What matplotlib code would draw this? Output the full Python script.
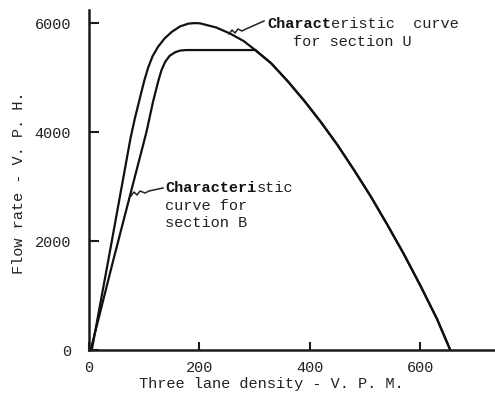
import matplotlib
matplotlib.use("Agg")
import matplotlib.pyplot as plt

# Section U characteristic curve (density V.P.M., flow V.P.H.)
u_density = [5, 35, 65, 75, 83, 95, 100, 107, 115, 125, 137, 150, 165, 180, 192, 201,
             230, 255, 280, 301, 330, 360, 390, 420, 450, 480, 510, 540, 570, 600, 630, 654]
u_flow = [0, 1650, 3320, 3880, 4250, 4740, 4940, 5180, 5390, 5565, 5720, 5840, 5940, 5990, 6000, 5995,
          5920, 5810, 5670, 5505, 5260, 4930, 4570, 4180, 3760, 3300, 2820, 2300, 1760, 1180, 570, 0]

# Section B characteristic curve
b_density = [3, 44, 104, 116, 125, 131, 138, 146, 156, 165, 176, 301,
             330, 360, 390, 420, 450, 480, 510, 540, 570, 600, 630, 654]
b_flow = [0, 1650, 4000, 4560, 4920, 5130, 5290, 5400, 5465, 5495, 5505, 5505,
          5260, 4930, 4570, 4180, 3760, 3300, 2820, 2300, 1760, 1180, 570, 0]

x_ticks = [0, 200, 400, 600]
y_ticks = [0, 2000, 4000, 6000]
x_label = "Three lane density - V. P. M."
y_label = "Flow rate - V. P. H."

W, H = 495, 399
FONT = "Liberation Mono"
CH = 0.6 * 11 * 100 / 72  # monospace advance in pixels at 11pt

fig = plt.figure(figsize=(W / 100, H / 100), dpi=100)
fig.patch.set_facecolor("white")

def fx(px):
    return px / W

def fy(py):
    return 1 - py / H

ax = fig.add_axes([fx(89), fy(350), (495 - 89) / W, (350 - 10) / H])
ax.set_xlim(0, 735)
ax.set_ylim(0, 6240)

ax.plot(u_density, u_flow, color="#111111", lw=1.6, solid_joinstyle="round")
ax.plot(b_density, b_flow, color="#111111", lw=1.6, solid_joinstyle="round")

for s in ["top", "right"]:
    ax.spines[s].set_visible(False)
for s in ["left", "bottom"]:
    ax.spines[s].set_linewidth(1.8)
    ax.spines[s].set_color("#1a1a1a")

ax.set_xticks(x_ticks)
ax.set_xticklabels([str(v) for v in x_ticks], fontfamily=FONT, fontsize=11, color="#222222")
ax.set_yticks(y_ticks)
ax.set_yticklabels([str(v) for v in y_ticks], fontfamily=FONT, fontsize=11, color="#222222")
ax.tick_params(axis="x", direction="in", length=6, width=1.5, pad=8, color="#1a1a1a")
ax.tick_params(axis="y", direction="in", length=7, width=1.5, pad=13, color="#1a1a1a")

fig.text(fx(271), fy(384), x_label, ha="center", va="center",
         fontfamily=FONT, fontsize=11, color="#222222")
fig.text(fx(19), fy(183), y_label, ha="center", va="center", rotation=90,
         fontfamily=FONT, fontsize=11, color="#222222")

# Annotation for section U
fig.text(fx(267), fy(24), "Charact", ha="left", va="center",
         fontfamily=FONT, fontsize=11, fontweight="bold", color="#111111")
fig.text(fx(267 + 7 * CH), fy(24), "eristic  curve", ha="left", va="center",
         fontfamily=FONT, fontsize=11, color="#222222")
fig.text(fx(293), fy(42), "for section U", ha="left", va="center",
         fontfamily=FONT, fontsize=11, color="#222222")

# Annotation for section B
fig.text(fx(165), fy(188), "Characteri", ha="left", va="center",
         fontfamily=FONT, fontsize=11, fontweight="bold", color="#111111")
fig.text(fx(165 + 10 * CH), fy(188), "stic", ha="left", va="center",
         fontfamily=FONT, fontsize=11, color="#222222")
fig.text(fx(165), fy(206), "curve for", ha="left", va="center",
         fontfamily=FONT, fontsize=11, color="#222222")
fig.text(fx(165), fy(223), "section B", ha="left", va="center",
         fontfamily=FONT, fontsize=11, color="#222222")

# squiggle leader lines (pixel positions)
def squiggle(pts):
    xs = [fx(p[0]) for p in pts]
    ys = [fy(p[1]) for p in pts]
    fig.add_artist(plt.Line2D(xs, ys, transform=fig.transFigure,
                              color="#222222", lw=1.1))

squiggle([(229, 34), (232, 30), (235, 33), (238, 29), (242, 31), (246, 29), (264, 21)])
squiggle([(131, 196), (134, 192), (137, 195), (140, 191), (145, 193), (149, 191), (163, 188)])

fig.savefig("out.png", dpi=100, facecolor="white")
